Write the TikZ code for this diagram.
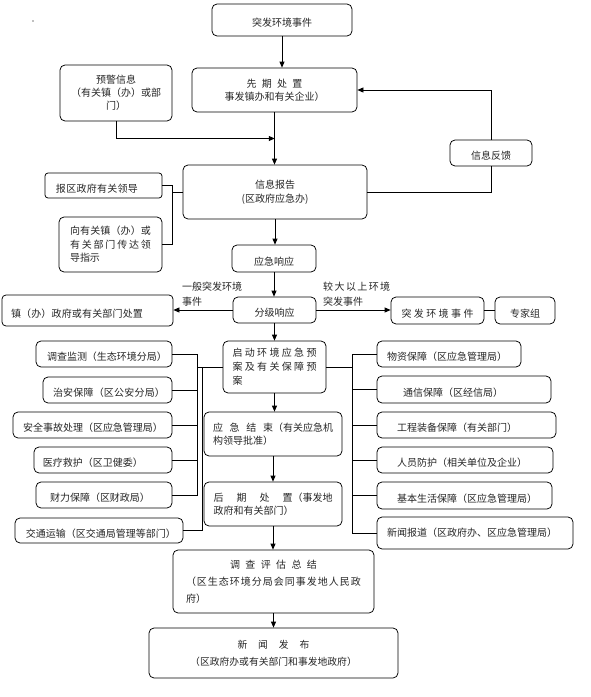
\documentclass[tikz,border=0pt]{standalone}
\usepackage{fontspec}
\newfontfamily\cjk{Noto Sans CJK SC}
\usetikzlibrary{arrows.meta,calc}
\makeatletter
\def\spr@loop#1#2\@nil{#1\ifx\relax#2\relax\else\hfill\spr@loop#2\@nil\fi}
\newcommand\spr[2]{\makebox[#1][s]{\spr@loop#2\@nil}}
\newcommand\lt[4]{\makebox[#1][l]{\hspace*{#2}\spr{#3}{#4}}}
\makeatother
\tikzset{
  box/.style={draw=black, line width=0.75pt, rounded corners=5pt, inner sep=0pt,
    font=\cjk\fontsize{10}{13.5}\selectfont, text=black!85, align=center},
  boxl/.style={box, align=left},
  low/.style={text height=14pt, text depth=1pt},
  arr/.style={-{Triangle[length=6pt,width=5pt]}, line width=0.75pt},
  ln/.style={line width=0.75pt},
  lbl/.style={inner sep=0pt, font=\cjk\fontsize{10}{15}\selectfont, text=black!85, align=left, anchor=west}
}
\begin{document}
\begin{tikzpicture}[x=1pt,y=-1pt]
\useasboundingbox (0,0) rectangle (590,697);
\fill[gray] (33,21) circle (0.8);
% top part
\node[box, low, minimum width=140pt, minimum height=32pt] (ev1) at (282,20) {突发环境事件};
\node[box, minimum width=165pt, minimum height=44pt, font=\cjk\fontsize{10}{13}\selectfont] (pre) at (274.5,90) {\spr{56pt}{先期处置}\\事发镇办和有关企业）};
\node[box, minimum width=112pt, minimum height=56pt, font=\cjk\fontsize{10}{13}\selectfont] (warn) at (116,93) {预警信息\\（有关镇（办）或部\\门）};
\node[box, low, minimum width=82pt, minimum height=26pt] (fb) at (491,153) {信息反馈};
\node[box, minimum width=184pt, minimum height=54pt, font=\cjk\fontsize{10}{14}\selectfont] (rep) at (275,192) {信息报告\\(区政府应急办)};
\node[box, low, rounded corners=3pt, minimum width=117pt, minimum height=25pt] (lead) at (103.5,185.5) {\lt{117pt}{11pt}{82pt}{报区政府有关领导}};
\node[boxl, minimum width=103pt, minimum height=55pt] (inst) at (110.5,244.5) {\spr{81pt}{向有关镇（办）或}\\\spr{81pt}{有关部门传达领}\\导指示};
\node[box, low, minimum width=84pt, minimum height=27pt] (resp) at (274,258.5) {应急响应};
\node[box, low, minimum width=83pt, minimum height=26pt] (grade) at (274.5,310) {分级响应};
\node[box, low, rounded corners=4pt, minimum width=171pt, minimum height=31pt] (town) at (87.5,310.5) {\lt{171pt}{9pt}{132pt}{镇（办）政府或有关部门处置}};
\node[box, low, minimum width=93pt, minimum height=27pt] (ev2) at (437.5,310.5) {\spr{72pt}{突发环境事件}};
\node[box, low, minimum width=60pt, minimum height=27pt] (exp) at (525,310.5) {专家组};
\node[lbl] (lab1) at (182,294.5) {一般突发环境\\事件};
\node[lbl] (lab2) at (323,294.5) {\spr{67pt}{较大以上环境}\\突发事件};
% centre column
\node[boxl, minimum width=103pt, minimum height=52pt, font=\cjk\fontsize{10}{14}\selectfont] (start) at (274.5,367) {\spr{84pt}{启动环境应急预}\\\spr{84pt}{案及有关保障预}\\案};
\node[boxl, minimum width=138pt, minimum height=44pt, font=\cjk\fontsize{10}{13}\selectfont] (end) at (273,434) {\spr{60pt}{应急结束}（有关应急机\\构领导批准）};
\node[boxl, minimum width=138pt, minimum height=44pt, font=\cjk\fontsize{10}{13}\selectfont] (post) at (273,504) {\spr{79pt}{后期处置}（事发地\\政府和有关部门）};
\node[boxl, minimum width=201pt, minimum height=63pt, font=\cjk\fontsize{10}{17}\selectfont] (eval) at (273.5,581.5) {\makebox[175pt][c]{\spr{87pt}{调查评估总结}}\\\spr{175pt}{（区生态环境分局会同事发地人民政}\\府）};
\node[box, minimum width=249pt, minimum height=50pt, font=\cjk\fontsize{9.8}{17}\selectfont] (news) at (273.5,653) {\spr{72pt}{新闻发布}\\（区政府办或有关部门和事发地政府）};
% left boxes
\node[box, low, minimum width=136pt, minimum height=26pt] (L1) at (104,354) {\lt{136pt}{11pt}{116pt}{调查监测（生态环境分局）}};
\node[box, low, minimum width=129pt, minimum height=26pt] (L2) at (107.5,390) {\lt{129pt}{10pt}{112pt}{治安保障（区公安分局）}};
\node[box, low, minimum width=159pt, minimum height=26pt] (L3) at (92.5,425) {\lt{159pt}{10pt}{137pt}{安全事故处理（区应急管理局）}};
\node[box, low, minimum width=138pt, minimum height=26pt] (L4) at (103,460) {\lt{138pt}{9pt}{97pt}{医疗救护（区卫健委）}};
\node[box, low, minimum width=136pt, minimum height=26pt] (L5) at (104,495) {\lt{136pt}{14pt}{97pt}{财力保障（区财政局）}};
\node[box, low, minimum width=168pt, minimum height=25pt] (L6) at (99,530.5) {\lt{168pt}{11pt}{146pt}{交通运输（区交通局管理等部门）}};
% right boxes
\node[box, low, minimum width=144pt, minimum height=26pt] (R1) at (449,354) {\lt{144pt}{10pt}{116pt}{物资保障（区应急管理局）}};
\node[box, low, minimum width=174pt, minimum height=27pt] (R2) at (464,389.5) {\lt{174pt}{26pt}{97pt}{通信保障（区经信局）}};
\node[box, low, minimum width=179pt, minimum height=26pt] (R3) at (466.5,425) {\lt{179pt}{20pt}{118pt}{工程装备保障（有关部门）}};
\node[box, low, minimum width=176pt, minimum height=26pt] (R4) at (465,460) {\lt{176pt}{20pt}{128pt}{人员防护（相关单位及企业）}};
\node[box, low, minimum width=175pt, minimum height=27pt] (R5) at (464.5,495.5) {\lt{175pt}{20pt}{138pt}{基本生活保障（区应急管理局）}};
\node[box, minimum width=196pt, minimum height=32pt] (R6) at (475,533) {\lt{196pt}{10pt}{170pt}{新闻报道（区政府办、区应急管理局）}};
% helper coordinates
\coordinate (bx) at (172,0);
\coordinate (bl1) at (197,0);
\coordinate (bl2) at (202,0);
\coordinate (br) at (352,0);
% connectors
\draw[arr] (ev1.south) -- (ev1.south |- pre.north);
\draw[arr] (pre.south) -- (pre.south |- rep.north);
\draw[arr] (warn.south) |- ($(pre.south)!0.5!(rep.north)$);
\draw[arr] (fb.north) |- (pre.east);
\draw[ln] (rep.east) -| (fb.south);
\draw[ln] (lead.east) -- (lead.east -| bx) -- (inst.east -| bx) -- (inst.east);
\draw[ln] (rep.west) -- (rep.west -| bx);
\draw[arr] (rep.south) -- (rep.south |- resp.north);
\draw[arr] (resp.south) -- (resp.south |- grade.north);
\draw[arr] (grade.west) -- (grade.west -| town.east);
\draw[arr] (grade.east) -- (grade.east -| ev2.west);
\draw[ln] (ev2.east) -- (exp.west);
\draw[arr] (grade.south) -- (grade.south |- start.north);
\draw[arr] (start.south) -- (start.south |- end.north);
\draw[arr] (end.south) -- (end.south |- post.north);
\draw[arr] (post.south) -- (post.south |- eval.north);
\draw[arr] (eval.south) -- (eval.south |- news.north);
% left bus
\draw[ln] (L1.east) -- (L1.east -| bl1) -- (L5.east -| bl1) -- (L5.east);
\foreach \n in {L2,L3,L4} \draw[ln] (\n.east) -- (\n.east -| bl1);
\draw[ln] (start.west) -- (start.west -| bl1);
\draw[ln] (start.west -| bl2) -- (L6.east -| bl2) -- (L6.east);
% right bus
\draw[ln] (start.east) -- (start.east -| br);
\draw[ln] (R1.west) -- (R1.west -| br) -- (R6.west -| br) -- (R6.west);
\foreach \n in {R2,R3,R4,R5} \draw[ln] (\n.west) -- (\n.west -| br);
\end{tikzpicture}
\end{document}
